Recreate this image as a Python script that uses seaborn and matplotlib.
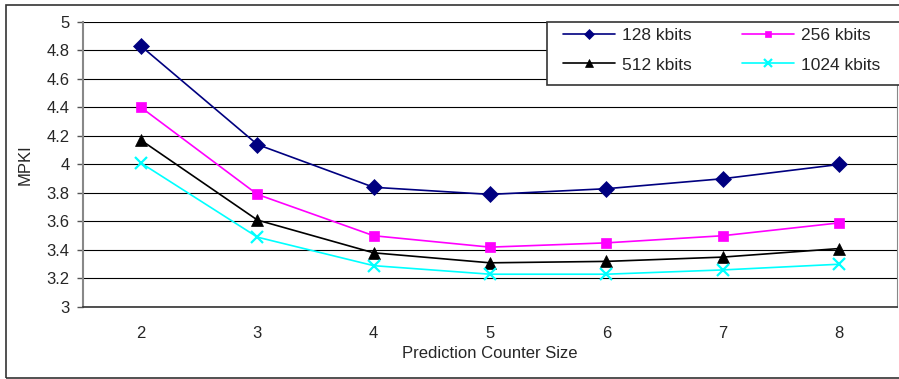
import matplotlib
matplotlib.use("Agg")
import matplotlib.pyplot as plt
import seaborn as sns
import pandas as pd
from matplotlib.patches import Rectangle

# data
counter_size = [2, 3, 4, 5, 6, 7, 8]
mpki_128 = [4.83, 4.14, 3.84, 3.79, 3.83, 3.90, 4.00]
mpki_256 = [4.40, 3.79, 3.50, 3.42, 3.45, 3.50, 3.59]
mpki_512 = [4.17, 3.61, 3.38, 3.31, 3.32, 3.35, 3.41]
mpki_1024 = [4.01, 3.49, 3.29, 3.23, 3.23, 3.26, 3.30]
labels = ["128 kbits", "256 kbits", "512 kbits", "1024 kbits"]

df = pd.DataFrame({
    "size": counter_size * 4,
    "mpki": mpki_128 + mpki_256 + mpki_512 + mpki_1024,
    "series": [l for l in labels for _ in counter_size],
})

sns.set_style("white")
plt.rcParams['font.family'] = ['Liberation Sans', 'DejaVu Sans']

fig = plt.figure(figsize=(8.99, 3.79), dpi=100)
ax = fig.add_axes([0.0923, 0.19, 0.9055, 0.752])

colors = ["#000080", "#FF00FF", "#000000", "#00FFFF"]
markers = ["D", "s", "^", "x"]
msizes = [8, 7.5, 8.5, 9]

for lab, c, m, ms in zip(labels, colors, markers, msizes):
    sub = df[df["series"] == lab]
    sns.lineplot(data=sub, x="size", y="mpki", ax=ax, color=c, marker=m,
                 markersize=ms, markeredgecolor=c, markeredgewidth=1.6 if m == "x" else 0.5,
                 linewidth=1.2, label=lab, zorder=3)

ax.set_xlim(1.5, 8.5)
ax.set_ylim(3, 5)
ax.set_yticks([3 + 0.2 * i for i in range(11)])
ax.set_yticklabels(["3", "3.2", "3.4", "3.6", "3.8", "4", "4.2", "4.4", "4.6", "4.8", "5"])
ax.set_xticks(counter_size)
ax.set_xticks([x + 0.5 for x in range(1, 9)], minor=True)
ax.tick_params(axis="x", which="major", length=0, pad=14, labelsize=12)
ax.tick_params(axis="x", which="minor", length=4.5, width=1, color="#555555", direction="out")
ax.tick_params(axis="y", which="major", length=4.5, width=1, color="#555555", direction="out",
               pad=5, labelsize=12, left=True)

ax.grid(axis="y", color="black", linewidth=0.8)
ax.set_axisbelow(True)
ax.spines["top"].set_visible(False)
ax.spines["right"].set_color("#888888")
ax.spines["left"].set_color("#888888")
ax.spines["left"].set_linewidth(1.5)
ax.spines["bottom"].set_color("#333333")
ax.spines["bottom"].set_linewidth(1.2)

ax.set_xlabel("Prediction Counter Size", fontsize=12, labelpad=3)
ax.set_ylabel("MPKI", fontsize=12, labelpad=10)

# legend fills row-wise: 128, 256 / 512, 1024
h, l = ax.get_legend_handles_labels()
order = [0, 2, 1, 3]
leg = ax.legend([h[i] for i in order], [l[i] for i in order], ncol=2, loc="upper left",
                bbox_to_anchor=(563 / 899, 1 - 28 / 379), bbox_transform=fig.transFigure,
                fontsize=12.5, frameon=False, borderpad=0, borderaxespad=0,
                columnspacing=2.9, handlelength=3.0, handletextpad=0.4, labelspacing=0.82)
for lh in leg.legend_handles:
    lh.set_markersize(lh.get_markersize() * 0.6)
leg.set_zorder(5)
ax.add_patch(Rectangle((547 / 899, 1 - 85 / 379), 0.5, 63 / 379, transform=fig.transFigure,
                       facecolor="white", edgecolor="#333333", linewidth=1.2, zorder=4,
                       clip_on=False))

fig.patches.append(Rectangle((6 / 899, 1 / 379), 1.0, 373 / 379, transform=fig.transFigure,
                             fill=False, edgecolor="#333333", linewidth=1.2, zorder=0))

fig.savefig("out.png", dpi=100)
